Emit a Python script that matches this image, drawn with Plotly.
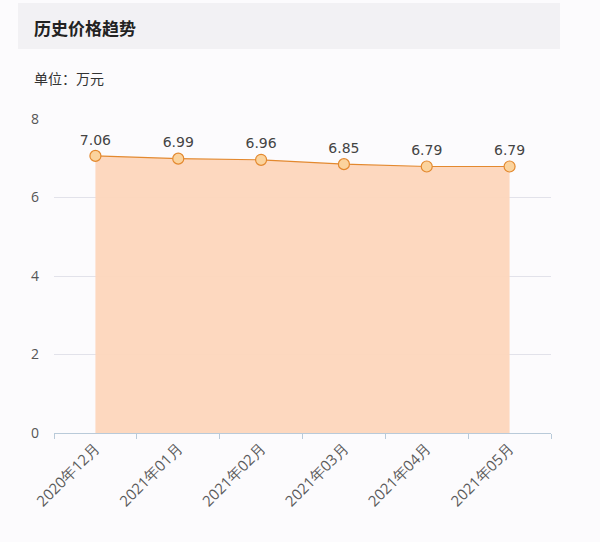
import plotly.graph_objects as go

# 历史价格趋势 (单位: 万元)
months = ["2020年12月", "2021年01月", "2021年02月", "2021年03月", "2021年04月", "2021年05月"]
prices = [7.06, 6.99, 6.96, 6.85, 6.79, 6.79]
y_ticks = [0, 2, 4, 6, 8]

FONT = "Noto Sans CJK SC, Noto Sans, sans-serif"
BG = "#fcfbfd"

# plot area in pixels, used to place the header outside of it
L, R, T, B = 54, 49, 119, 109
W, H = 600, 542
pw, ph = W - L - R, H - T - B


def px_x(x):
    return (x - L) / pw


def px_y(y):
    return (H - B - y) / ph


fig = go.Figure()
fig.add_trace(go.Scatter(
    x=months,
    y=prices,
    mode="lines+markers+text",
    text=[f"{v:.2f}" for v in prices],
    textposition="top center",
    textfont=dict(size=14, color="#444444", family="DejaVu Sans, sans-serif"),
    fill="tozeroy",
    fillcolor="rgba(253,214,188,0.95)",
    line=dict(color="#e3892f", width=1.2),
    marker=dict(size=11, color="#fbd39d", line=dict(color="#e3892f", width=1.2)),
    cliponaxis=False,
    hoverinfo="x+y",
))

# header bar
fig.add_shape(
    type="rect", xref="paper", yref="paper",
    x0=px_x(18), x1=px_x(560), y0=px_y(49), y1=px_y(3),
    fillcolor="#f2f1f4", line=dict(width=0), layer="below",
)
fig.add_annotation(
    text="<b>历史价格趋势</b>", xref="paper", yref="paper",
    x=px_x(32), y=px_y(27), xanchor="left", yanchor="middle",
    showarrow=False, font=dict(size=17, color="#222222", family=FONT),
)
fig.add_annotation(
    text="单位：万元", xref="paper", yref="paper",
    x=px_x(32), y=px_y(78), xanchor="left", yanchor="middle",
    showarrow=False, font=dict(size=14, color="#333333", family=FONT),
)

fig.update_xaxes(
    type="category",
    range=[-0.5, len(months) - 0.5],
    showgrid=False,
    showline=True, linecolor="#b9cad9", linewidth=1,
    ticks="outside", tickson="boundaries", ticklen=5, tickcolor="#b9cad9",
    tickangle=-45,
    tickfont=dict(size=15, color="#5a5a5a", family="Open Sans, sans-serif"),
    zeroline=False,
)
fig.update_yaxes(
    range=[0, 8],
    tickvals=y_ticks,
    showgrid=True, gridcolor="#e2e2ea", gridwidth=1,
    showline=False, zeroline=False,
    ticks="", ticklabelstandoff=14,
    tickfont=dict(size=14, color="#555555", family="Open Sans, sans-serif"),
)
fig.update_layout(
    width=W, height=H,
    margin=dict(l=L, r=R, t=T, b=B),
    paper_bgcolor=BG,
    plot_bgcolor=BG,
    showlegend=False,
    font=dict(family=FONT),
)

# drop the default page margin so the figure sits at the window's corner
fig.write_html(
    "out.html",
    config={"displayModeBar": False},
    post_script=f"document.body.style.margin='0';document.body.style.background='{BG}';",
)
